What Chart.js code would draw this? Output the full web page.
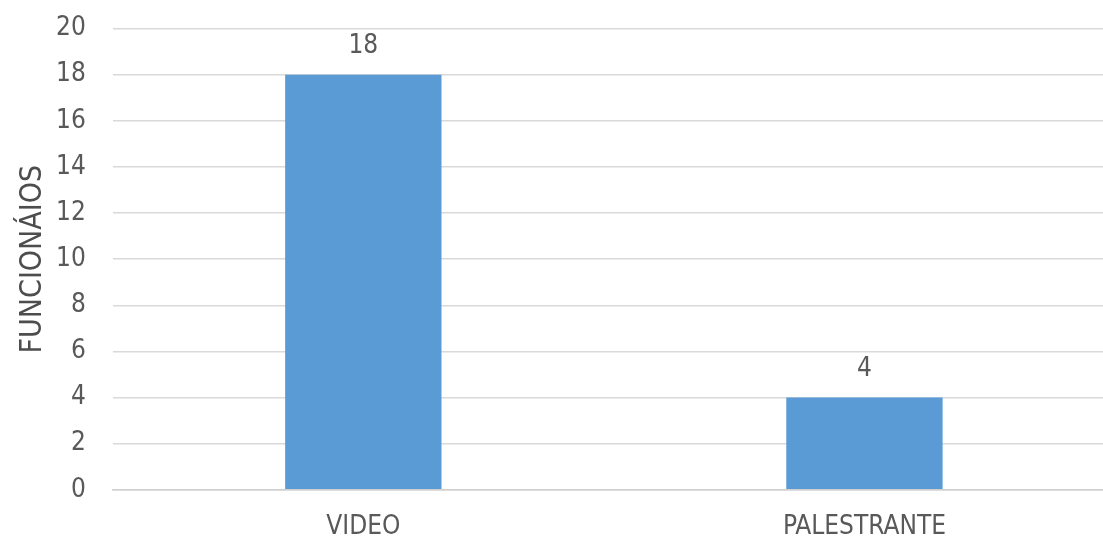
<!DOCTYPE html>
<html>
<head>
<meta charset="utf-8">
<script src="https://cdn.jsdelivr.net/npm/chart.js@4"></script>
<style>
  html, body { margin: 0; padding: 0; background: #fff; overflow: hidden; }
  #wrap { width: 1115px; height: 553px; margin-top: -14px; position: relative; }
</style>
</head>
<body>
<div id="wrap"><canvas id="chart"></canvas></div>
<script>
const categories = ['VIDEO', 'PALESTRANTE'];
const funcionarios = [18, 4];
const yTicks = [0, 2, 4, 6, 8, 10, 12, 14, 16, 18, 20];

const FONT = "'Liberation Sans Narrow', 'DejaVu Sans Condensed', 'Open Sans', sans-serif";
const TEXT = '#595959';
const SIZE = 26;

// value labels above each bar
const valueLabels = {
  id: 'valueLabels',
  afterDatasetsDraw(chart) {
    const ctx = chart.ctx;
    const meta = chart.getDatasetMeta(0);
    const data = chart.data.datasets[0].data;
    ctx.save();
    ctx.fillStyle = TEXT;
    ctx.font = SIZE + 'px ' + FONT;
    ctx.textAlign = 'center';
    ctx.textBaseline = 'middle';
    meta.data.forEach((bar, i) => {
      ctx.fillText(String(data[i]), bar.x, bar.y - 28);
    });
    ctx.restore();
  }
};

new Chart(document.getElementById('chart'), {
  type: 'bar',
  data: {
    labels: categories,
    datasets: [{
      data: funcionarios,
      backgroundColor: '#5B9BD5',
      borderWidth: 0,
      barPercentage: 0.312,
      categoryPercentage: 1
    }]
  },
  options: {
    responsive: true,
    maintainAspectRatio: false,
    animation: false,
    layout: { padding: { top: 0, left: 15, right: 0, bottom: -26 } },
    plugins: {
      legend: { display: false },
      tooltip: { enabled: false }
    },
    scales: {
      x: {
        grid: { display: false, drawTicks: false },
        border: { color: '#d0d0d0', width: 1.5 },
        ticks: { color: TEXT, font: { family: FONT, size: SIZE }, padding: 22 }
      },
      y: {
        min: 0,
        max: 20,
        afterBuildTicks(scale) {
          scale.ticks = yTicks.map(v => ({ value: v }));
        },
        grid: { color: '#d9d9d9', lineWidth: 1.5, drawTicks: false },
        border: { display: false },
        ticks: { color: TEXT, font: { family: FONT, size: SIZE }, padding: 27 },
        title: {
          display: true,
          text: 'FUNCIONÁIOS',
          color: '#4d4d4d',
          font: { family: FONT, size: 30 },
          padding: { top: 0, bottom: -22 }
        }
      }
    }
  },
  plugins: [valueLabels]
});
</script>
</body>
</html>
